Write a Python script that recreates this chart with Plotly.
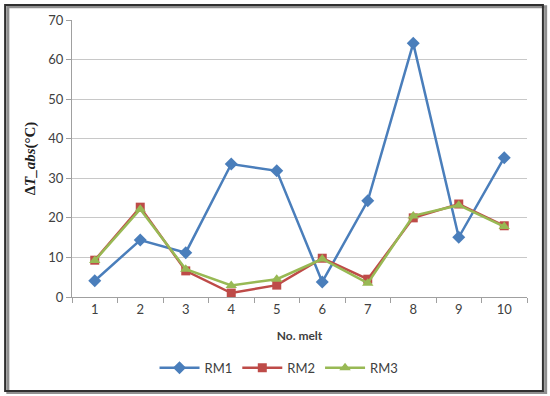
import plotly.graph_objects as go

melts = [1, 2, 3, 4, 5, 6, 7, 8, 9, 10]
rm1 = [4.1, 14.4, 11.2, 33.6, 31.9, 3.8, 24.3, 64.1, 15.1, 35.2]
rm2 = [9.3, 22.7, 6.6, 1.0, 3.0, 9.8, 4.5, 20.0, 23.5, 18.0]
rm3 = [9.2, 22.2, 7.0, 2.9, 4.5, 9.6, 3.5, 20.5, 23.2, 17.8]
y_ticks = [0, 10, 20, 30, 40, 50, 60, 70]

fig = go.Figure()
fig.add_trace(go.Scatter(x=melts, y=rm1, name="RM1", mode="lines+markers",
                         line=dict(color="#4A7EBB", width=2.5),
                         marker=dict(symbol="diamond", size=10, color="#4A7EBB")))
fig.add_trace(go.Scatter(x=melts, y=rm2, name="RM2", mode="lines+markers",
                         line=dict(color="#BE4B48", width=2.5),
                         marker=dict(symbol="square", size=9, color="#BE4B48")))
fig.add_trace(go.Scatter(x=melts, y=rm3, name="RM3", mode="lines+markers",
                         line=dict(color="#98B954", width=2.5),
                         marker=dict(symbol="triangle-up", size=10, color="#98B954")))

font_family = "Lato, 'Open Sans', sans-serif"
fig.update_layout(
    width=550, height=396,
    margin=dict(l=72, r=23, t=20, b=99),
    paper_bgcolor="white", plot_bgcolor="white",
    font=dict(family=font_family, size=13, color="#404040"),
    showlegend=True,
    legend=dict(orientation="h", x=0.455, xanchor="center", y=-0.256, yanchor="middle",
                font=dict(size=13, color="#404040"), itemwidth=40),
    xaxis=dict(range=[0.5, 10.5], tickvals=melts, ticks="", showgrid=False,
               showline=True, linecolor="#A0A0A0", linewidth=1,
               minor=dict(tick0=0.5, dtick=1, ticks="outside", ticklen=5, tickcolor="#A0A0A0"),
               title=dict(text="<b>No. melt</b>", font=dict(size=12, color="#404040"), standoff=16),
               zeroline=False),
    yaxis=dict(range=[0, 70], tickvals=y_ticks, ticks="outside", ticklen=5, tickcolor="#A0A0A0",
               showline=True, linecolor="#A0A0A0", linewidth=1,
               showgrid=True, gridcolor="#C8C8C8", gridwidth=1, zeroline=False,
               title=dict(text="<b>Δ<i>T_abs</i>(°C)</b>", font=dict(size=15, color="#202020", family="'Liberation Serif', serif"), standoff=9)),
)

# outer frame with shadow
fig.add_shape(type="rect", xref="paper", yref="paper",
              x0=-0.141, x1=1.041, y0=-0.345, y1=1.048,
              line=dict(color="#909090", width=3), layer="below")
fig.add_shape(type="rect", xref="paper", yref="paper",
              x0=-0.147, x1=1.035, y0=-0.339, y1=1.054,
              line=dict(color="#303030", width=2), fillcolor="rgba(0,0,0,0)", layer="below")

fig.write_html("out.html", config={"displayModeBar": False},
               post_script="document.body.style.margin='0';document.body.style.overflow='hidden';")
